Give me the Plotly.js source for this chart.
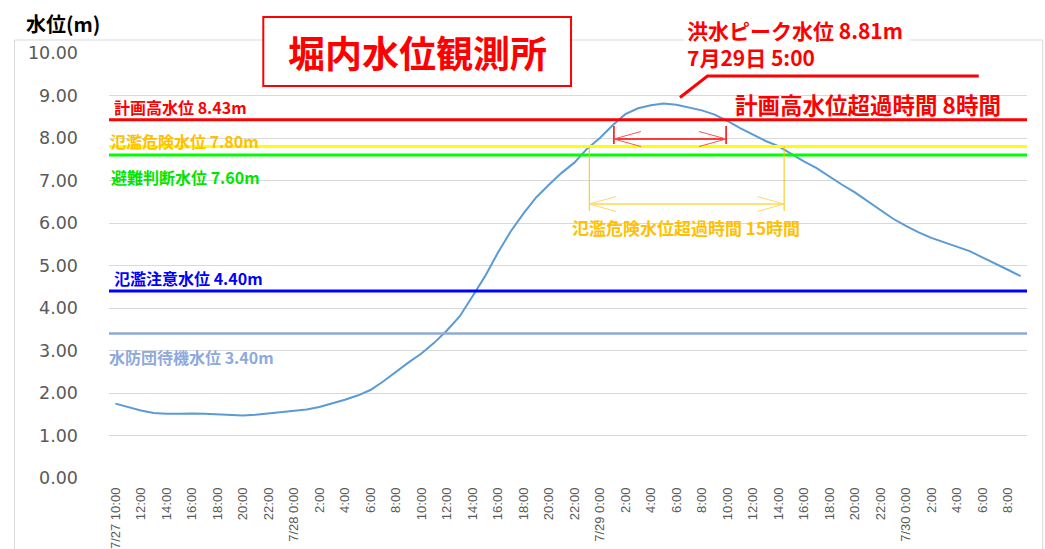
<!DOCTYPE html>
<html><head><meta charset="utf-8">
<script src="https://cdn.plot.ly/plotly-3.0.1.min.js"></script>
<style>html,body{margin:0;padding:0;background:#fff;}#chart{width:1045px;height:549px;}</style>
</head><body><div id="chart"></div>
<script>
// ---- data ----
const times = [
 "7/27 10:00","7/27 11:00","7/27 12:00","7/27 13:00","7/27 14:00","7/27 15:00","7/27 16:00","7/27 17:00",
 "7/27 18:00","7/27 19:00","7/27 20:00","7/27 21:00","7/27 22:00","7/27 23:00",
 "7/28 0:00","7/28 1:00","7/28 2:00","7/28 3:00","7/28 4:00","7/28 5:00","7/28 6:00","7/28 7:00",
 "7/28 8:00","7/28 9:00","7/28 10:00","7/28 11:00","7/28 12:00","7/28 13:00","7/28 14:00","7/28 15:00",
 "7/28 16:00","7/28 17:00","7/28 18:00","7/28 19:00","7/28 20:00","7/28 21:00","7/28 22:00","7/28 23:00",
 "7/29 0:00","7/29 1:00","7/29 2:00","7/29 3:00","7/29 4:00","7/29 5:00","7/29 6:00","7/29 7:00",
 "7/29 8:00","7/29 9:00","7/29 10:00","7/29 11:00","7/29 12:00","7/29 13:00","7/29 14:00","7/29 15:00",
 "7/29 16:00","7/29 17:00","7/29 18:00","7/29 19:00","7/29 20:00","7/29 21:00","7/29 22:00","7/29 23:00",
 "7/30 0:00","7/30 1:00","7/30 2:00","7/30 3:00","7/30 4:00","7/30 5:00","7/30 6:00","7/30 7:00",
 "7/30 8:00","7/30 9:00"];
const waterLevel = [
 1.75,1.67,1.59,1.53,1.51,1.51,1.52,1.51,1.50,1.49,1.47,1.49,1.52,1.55,
 1.58,1.61,1.67,1.75,1.84,1.94,2.07,2.27,2.50,2.72,2.93,3.18,3.47,3.80,4.27,4.75,
 5.30,5.80,6.22,6.60,6.90,7.18,7.42,7.75,
 8.00,8.30,8.56,8.70,8.77,8.81,8.78,8.72,8.65,8.55,8.40,8.23,8.07,7.93,7.81,7.62,
 7.45,7.29,7.09,6.90,6.72,6.51,6.30,6.10,
 5.93,5.78,5.65,5.55,5.45,5.34,5.19,5.05,4.90,4.75];
const tickLabels = [
 "7/27 10:00","12:00","14:00","16:00","18:00","20:00","22:00",
 "7/28 0:00","2:00","4:00","6:00","8:00","10:00","12:00","14:00","16:00","18:00","20:00","22:00",
 "7/29 0:00","2:00","4:00","6:00","8:00","10:00","12:00","14:00","16:00","18:00","20:00","22:00",
 "7/30 0:00","2:00","4:00","6:00","8:00"];
const levelNames  = ["計画高水位","氾濫危険水位","避難判断水位","氾濫注意水位","水防団待機水位"];
const levelValues = [8.43, 7.80, 7.60, 4.40, 3.40];
const peakValue = 8.81;
const peakTimeLabel = "7月29日 5:00";
const highExceedHours = 8;
const dangerExceedHours = 15;
// exceed periods (category index)
const highExceedRange = [39.1, 47.9];
const dangerExceedRange = [37.17, 52.45];

// ---- styles ----
const lineColors = ["#FF0000","#FFFF00","#00FF00","#0000FF","#8EA9DB"];
const lineWidths = [3, 3, 3, 3, 2.5];
const textColors = ["#FF0000","#FFC000","#00E600","#0000FF","#8EA9DB"];
const labelPix = [[112,107],[108,141],[109,177],[112,278],[107,357]];

const L = 108.6, R = 1027.3, T = 53, B = 478, W = R - L, H = B - T;
const N = times.length;
const YMAX = 10;
const pxX = p => (p - L) / W;
const pxY = p => (B - p) / H;
const ixPix = i => L + (i + 0.5) * W / N;
const vPix = v => B - v / YMAX * H;
const cjk = '"Noto Sans CJK JP", "Noto Sans", sans-serif';

const shapes = [];
const annotations = [];

// outer chart border
shapes.push({type:'rect', xref:'paper', yref:'paper', x0:pxX(14), x1:pxX(1043), y0:pxY(40), y1:pxY(600),
  line:{color:'#D9D9D9', width:1}, layer:'below'});

// level lines + labels
levelValues.forEach((v, k) => {
  shapes.push({type:'line', xref:'paper', yref:'y', x0:0, x1:1, y0:v, y1:v,
    line:{color:lineColors[k], width:lineWidths[k]}});
  annotations.push({xref:'paper', yref:'paper', x:pxX(labelPix[k][0]), y:pxY(labelPix[k][1]),
    xanchor:'left', yanchor:'middle', showarrow:false,
    text:'<b>' + levelNames[k] + ' ' + v.toFixed(2) + 'm</b>',
    font:{family:cjk, size:16, color:textColors[k]}});
});

// title box
shapes.push({type:'rect', xref:'paper', yref:'paper', x0:pxX(263), x1:pxX(571), y0:pxY(17), y1:pxY(86),
  line:{color:'#FF0000', width:2}, fillcolor:'#FFFFFF'});
annotations.push({xref:'paper', yref:'paper', x:pxX(417), y:pxY(52), xanchor:'center', yanchor:'middle',
  showarrow:false, text:'<b>堀内水位観測所</b>', font:{family:cjk, size:37, color:'#FF0000'}});

// y axis title
annotations.push({xref:'paper', yref:'paper', x:pxX(24), y:pxY(23), xanchor:'left', yanchor:'middle',
  showarrow:false, text:'<b>水位(m)</b>', font:{family:cjk, size:20, color:'#000000'}});

// peak callout: white backing, leader line, two-line text
shapes.push({type:'rect', xref:'paper', yref:'paper', x0:pxX(684), x1:pxX(910), y0:pxY(13), y1:pxY(70),
  line:{width:0}, fillcolor:'#FFFFFF'});
shapes.push({type:'path', xref:'paper', yref:'paper',
  path:'M' + pxX(680) + ',' + pxY(97.5) + ' L' + pxX(707.5) + ',' + pxY(76) + ' L' + pxX(979) + ',' + pxY(76),
  line:{color:'#FF0000', width:3}});
annotations.push({xref:'paper', yref:'paper', x:pxX(685), y:pxY(44), xanchor:'left', yanchor:'middle',
  align:'left', showarrow:false,
  text:'<b>洪水ピーク水位 ' + peakValue.toFixed(2) + 'm</b><br><b>' + peakTimeLabel + '</b>',
  font:{family:cjk, size:21, color:'#FF0000'}});
annotations.push({xref:'paper', yref:'paper', x:pxX(733), y:pxY(104), xanchor:'left', yanchor:'middle',
  showarrow:false, text:'<b>計画高水位超過時間 ' + highExceedHours + '時間</b>',
  font:{family:cjk, size:22.5, color:'#FF0000'}});

// double arrow helper
function dblArrow(i0, i1, yArrow, yTop, yBot, color, headColor, width) {
  const x0 = ixPix(i0), x1 = ixPix(i1);
  shapes.push({type:'line', xref:'paper', yref:'paper', x0:pxX(x0), x1:pxX(x0), y0:pxY(yTop), y1:pxY(yBot), line:{color:color, width:width}});
  shapes.push({type:'line', xref:'paper', yref:'paper', x0:pxX(x1), x1:pxX(x1), y0:pxY(yTop), y1:pxY(yBot), line:{color:color, width:width}});
  shapes.push({type:'line', xref:'paper', yref:'paper', x0:pxX(x0), x1:pxX(x1), y0:pxY(yArrow), y1:pxY(yArrow), line:{color:color, width:width}});
  const hl = 27, hs = 7.5;
  shapes.push({type:'path', xref:'paper', yref:'paper',
    path:'M' + pxX(x0+hl) + ',' + pxY(yArrow-hs) + ' L' + pxX(x0) + ',' + pxY(yArrow) + ' L' + pxX(x0+hl) + ',' + pxY(yArrow+hs),
    line:{color:headColor, width:1}});
  shapes.push({type:'path', xref:'paper', yref:'paper',
    path:'M' + pxX(x1-hl) + ',' + pxY(yArrow-hs) + ' L' + pxX(x1) + ',' + pxY(yArrow) + ' L' + pxX(x1-hl) + ',' + pxY(yArrow+hs),
    line:{color:headColor, width:1}});
}
dblArrow(highExceedRange[0], highExceedRange[1], 139, 126, 144, '#FF0000', '#FF5050', 1.5);
dblArrow(dangerExceedRange[0], dangerExceedRange[1], 204, vPix(levelValues[1]), 211, '#FFC000', '#FFD966', 1);
annotations.push({xref:'paper', yref:'paper', x:pxX(570), y:pxY(227), xanchor:'left', yanchor:'middle',
  showarrow:false, text:'<b>氾濫危険水位超過時間 ' + dangerExceedHours + '時間</b>',
  font:{family:cjk, size:17, color:'#FFC000'}});

const tickVals = times.filter((t, i) => i % 2 === 0);

const data = [{
  type:'scatter', mode:'lines', x:times, y:waterLevel,
  line:{color:'#5B9BD5', width:2}, hoverinfo:'x+y'
}];

const layout = {
  width:1045, height:549,
  margin:{l:L, r:1045 - R, t:T, b:549 - B, pad:0},
  paper_bgcolor:'#FFFFFF', plot_bgcolor:'#FFFFFF',
  showlegend:false,
  xaxis:{type:'category', range:[-0.5, N - 0.5], tickmode:'array', tickvals:tickVals, ticktext:tickLabels,
    tickangle:-90, showgrid:false, zeroline:false, showline:false, ticks:'',
    ticklabelstandoff:6,
    tickfont:{family:'"Liberation Sans", Arial, sans-serif', size:13, color:'#595959'}},
  yaxis:{range:[0, YMAX], dtick:1, tick0:0, tickformat:'.2f', showgrid:true, gridcolor:'#D9D9D9', gridwidth:1,
    zeroline:false, showline:false, ticks:'', ticklabelstandoff:30,
    tickfont:{family:'"DejaVu Sans", sans-serif', size:17.5, color:'#595959'}},
  shapes:shapes, annotations:annotations
};
Plotly.newPlot('chart', data, layout, {displayModeBar:false, staticPlot:true});
</script></body></html>
